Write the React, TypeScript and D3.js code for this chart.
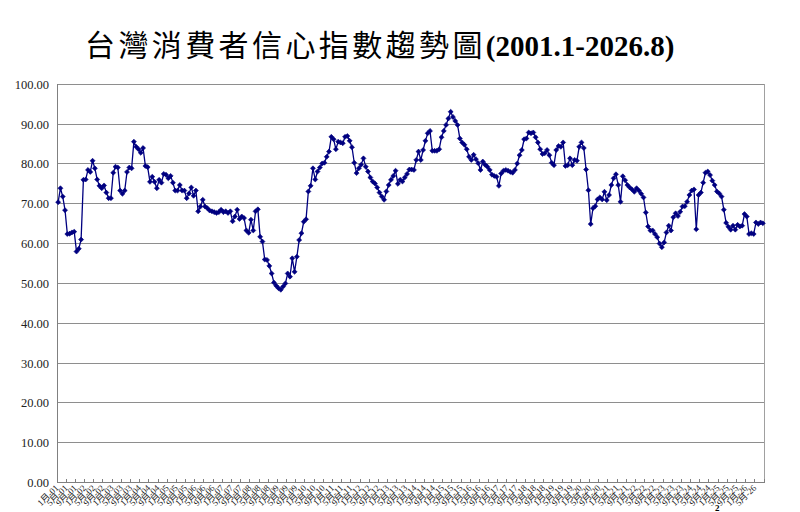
import React, { useEffect, useRef } from 'react';
import * as d3 from 'd3';

const W = 800;
const H = 512;
const PLOT = { left: 57, right: 764, top: 84.3, bottom: 482.5 };

const TITLE_ZH = '台灣消費者信心指數趨勢圖';
const TITLE_RANGE = '(2001.1-2026.8)';

const START_YEAR = 2001;
const END_YEAR = 2026;
const END_MONTH = 8;

// monthly index, one row per year
const CCI: number[] = [
  70.4, 73.9, 71.8, 68.4, 62.4, 62.5, 62.8, 63.0, 58.0, 58.7, 61.0, 76.0, // 2001
  76.1, 78.5, 78.0, 80.8, 78.9, 76.1, 74.5, 73.9, 74.6, 72.8, 71.4, 71.4, // 2002
  77.8, 79.3, 79.1, 73.3, 72.5, 73.3, 78.0, 79.1, 78.9, 85.6, 84.3, 83.7, // 2003
  82.8, 84.0, 79.5, 79.2, 75.5, 76.8, 75.5, 73.9, 76.0, 75.3, 77.5, 77.3, // 2004
  76.4, 77.0, 75.3, 73.3, 73.3, 74.7, 73.3, 73.3, 71.4, 72.6, 74.1, 72.0, // 2005
  73.3, 68.1, 69.3, 71.0, 69.3, 68.9, 68.3, 68.1, 67.9, 67.7, 67.9, 68.5, // 2006
  67.9, 68.1, 67.7, 68.1, 65.6, 66.8, 68.5, 66.2, 66.8, 66.4, 63.3, 62.7, // 2007
  66.0, 63.3, 68.1, 68.6, 61.7, 60.5, 56.0, 55.9, 54.4, 52.5, 50.2, 49.4, // 2008
  48.8, 48.4, 49.2, 50.0, 52.5, 51.7, 56.3, 52.9, 56.7, 60.9, 62.6, 65.5, // 2009
  66.1, 73.1, 74.5, 78.9, 76.1, 78.1, 79.1, 80.1, 80.3, 81.8, 83.1, 86.8, // 2010
  86.2, 83.7, 85.6, 85.4, 85.2, 86.8, 87.0, 85.8, 84.2, 80.3, 77.7, 78.9, // 2011
  79.8, 81.4, 79.3, 78.1, 76.6, 75.6, 75.1, 74.1, 72.8, 71.8, 71.0, 73.1, // 2012
  74.7, 76.0, 77.0, 78.3, 75.0, 76.0, 75.6, 76.6, 77.5, 78.6, 78.6, 78.5, // 2013
  81.0, 83.1, 81.0, 83.5, 85.8, 87.7, 88.3, 83.3, 83.3, 83.3, 83.7, 86.7, // 2014
  88.3, 89.8, 91.4, 93.1, 91.8, 90.8, 89.8, 86.4, 85.4, 84.8, 83.7, 81.8, // 2015
  81.0, 82.3, 81.2, 80.2, 78.5, 80.6, 79.8, 79.3, 78.5, 77.3, 77.0, 76.8, // 2016
  74.5, 77.6, 78.3, 78.5, 78.3, 78.0, 77.8, 78.5, 80.1, 82.2, 83.5, 86.2, // 2017
  86.4, 87.9, 87.7, 87.9, 86.7, 85.4, 83.7, 82.5, 82.7, 83.5, 82.2, 80.3, // 2018
  79.7, 83.5, 84.5, 84.3, 85.4, 79.5, 79.7, 81.4, 79.7, 81.0, 80.8, 84.3, // 2019
  85.4, 84.0, 78.6, 73.4, 64.9, 68.9, 69.4, 71.1, 71.6, 71.1, 73.0, 70.9, // 2020
  72.2, 74.7, 76.4, 77.4, 74.7, 70.5, 76.9, 75.9, 74.7, 74.1, 73.6, 73.0, // 2021
  73.9, 73.3, 72.5, 71.6, 67.8, 64.3, 63.3, 63.3, 62.4, 61.6, 60.0, 59.1, // 2022
  60.3, 62.8, 64.5, 63.3, 66.6, 67.6, 66.9, 68.0, 69.3, 69.4, 70.5, 72.2, // 2023
  73.3, 73.6, 63.6, 72.2, 72.8, 75.3, 77.8, 78.1, 77.2, 75.8, 74.7, 73.1, // 2024
  72.6, 71.8, 68.5, 65.2, 64.2, 63.5, 64.5, 63.5, 64.7, 64.3, 64.5, 67.4, // 2025
  66.8, 62.4, 62.6, 62.4, 65.3, 64.9, 65.3, 65.1, // 2026
];

const Y_TICKS = [0, 10, 20, 30, 40, 50, 60, 70, 80, 90, 100];
const LABEL_EVERY = 4;

// category keys "yyyy-m"
const CATEGORIES: string[] = [];
for (let y = START_YEAR; y <= END_YEAR; y++) {
  const last = y === END_YEAR ? END_MONTH : 12;
  for (let m = 1; m <= last; m++) CATEGORIES.push(`${y}-${m}`);
}
const catLabel = (c: string) => {
  const [y, m] = c.split('-');
  return `${m}月-${y.slice(2)}`;
};

const NAVY = '#000080';
const GRID = '#8e8e8e';

export default function App() {
  const svgRef = useRef<SVGSVGElement>(null);

  useEffect(() => {
    if (!svgRef.current) return;
    const svg = d3.select(svgRef.current);
    svg.selectAll('*').remove();

    svg.append('rect').attr('width', W).attr('height', H).attr('fill', '#ffffff');

    const x = d3.scaleBand<string>().domain(CATEGORIES).range([PLOT.left, PLOT.right]).paddingInner(0).paddingOuter(0);
    const bw = x.bandwidth();
    const cx = (c: string) => (x(c) as number) + bw / 2;
    const y = d3.scaleLinear().domain([0, 100]).range([PLOT.bottom, PLOT.top]);

    // title
    const title = svg.append('text').attr('x', 85).attr('y', 56).attr('fill', '#000');
    title.append('tspan')
      .attr('font-family', '"Noto Sans CJK TC", "Noto Sans CJK SC", sans-serif')
      .attr('font-size', 30).attr('font-weight', 400).attr('letter-spacing', 3.4)
      .text(TITLE_ZH);
    title.append('tspan')
      .attr('font-family', '"Liberation Serif", "Times New Roman", serif')
      .attr('font-size', 29).attr('font-weight', 700)
      .text(TITLE_RANGE);

    // gridlines
    svg.append('g').selectAll('line').data(Y_TICKS).join('line')
      .attr('x1', PLOT.left).attr('x2', PLOT.right)
      .attr('y1', d => y(d)).attr('y2', d => y(d))
      .attr('stroke', GRID).attr('stroke-width', 1).attr('shape-rendering', 'crispEdges');

    // y labels
    svg.append('g').selectAll('text').data(Y_TICKS).join('text')
      .attr('x', 49).attr('y', d => y(d) + 4.5).attr('text-anchor', 'end')
      .attr('font-family', '"Liberation Serif", "Times New Roman", serif').attr('font-size', 12.5)
      .attr('fill', '#222').text(d => d.toFixed(2));

    // plot frame: left, bottom, right
    svg.append('line').attr('x1', PLOT.left).attr('x2', PLOT.left).attr('y1', PLOT.top).attr('y2', PLOT.bottom)
      .attr('stroke', '#808080').attr('shape-rendering', 'crispEdges');
    svg.append('line').attr('x1', PLOT.right).attr('x2', PLOT.right).attr('y1', PLOT.top).attr('y2', PLOT.bottom)
      .attr('stroke', '#a0a0a0').attr('shape-rendering', 'crispEdges');
    svg.append('line').attr('x1', PLOT.left).attr('x2', PLOT.right).attr('y1', PLOT.bottom).attr('y2', PLOT.bottom)
      .attr('stroke', '#808080').attr('shape-rendering', 'crispEdges');

    // x ticks (inside, every 4 categories)
    const tickCats = CATEGORIES.filter((_, i) => i % LABEL_EVERY === 0);
    svg.append('g').selectAll('line').data([...tickCats.map(c => x(c) as number), PLOT.right]).join('line')
      .attr('x1', d => d).attr('x2', d => d)
      .attr('y1', PLOT.bottom).attr('y2', PLOT.bottom - 4)
      .attr('stroke', '#808080').attr('shape-rendering', 'crispEdges');

    // x labels rotated
    svg.append('g').selectAll('text').data(tickCats).join('text')
      .attr('transform', c => `translate(${cx(c) + 1},${PLOT.bottom + 6}) rotate(-45)`)
      .attr('text-anchor', 'end')
      .attr('font-family', '"Liberation Serif", "Noto Sans CJK TC", serif').attr('font-size', 9)
      .attr('fill', '#222').text(c => catLabel(c));

    // series
    const pts = CATEGORIES.map((c, i) => ({ c, v: CCI[i] })).filter(p => p.v != null);
    const line = d3.line<{ c: string; v: number }>().x(d => cx(d.c)).y(d => y(d.v));
    svg.append('path').datum(pts).attr('d', line)
      .attr('fill', 'none').attr('stroke', NAVY).attr('stroke-width', 1.3);

    const diamond = d3.symbol().type(d3.symbolDiamond2).size(16);
    svg.append('g').selectAll('path').data(pts).join('path')
      .attr('transform', d => `translate(${cx(d.c)},${y(d.v)})`)
      .attr('d', diamond).attr('fill', NAVY).attr('stroke', NAVY).attr('stroke-width', 0.6);

    // small footnote digit at the bottom edge
    svg.append('text').attr('x', 715).attr('y', 511)
      .attr('font-family', '"Liberation Serif", serif').attr('font-size', 9).attr('font-weight', 700)
      .text('2');
  }, []);

  return (
    <div style={{ position: 'fixed', left: 0, top: 0, width: W, height: H, overflow: 'hidden', background: '#fff' }}>
      <svg ref={svgRef} width={W} height={H} style={{ display: 'block' }} />
    </div>
  );
}
